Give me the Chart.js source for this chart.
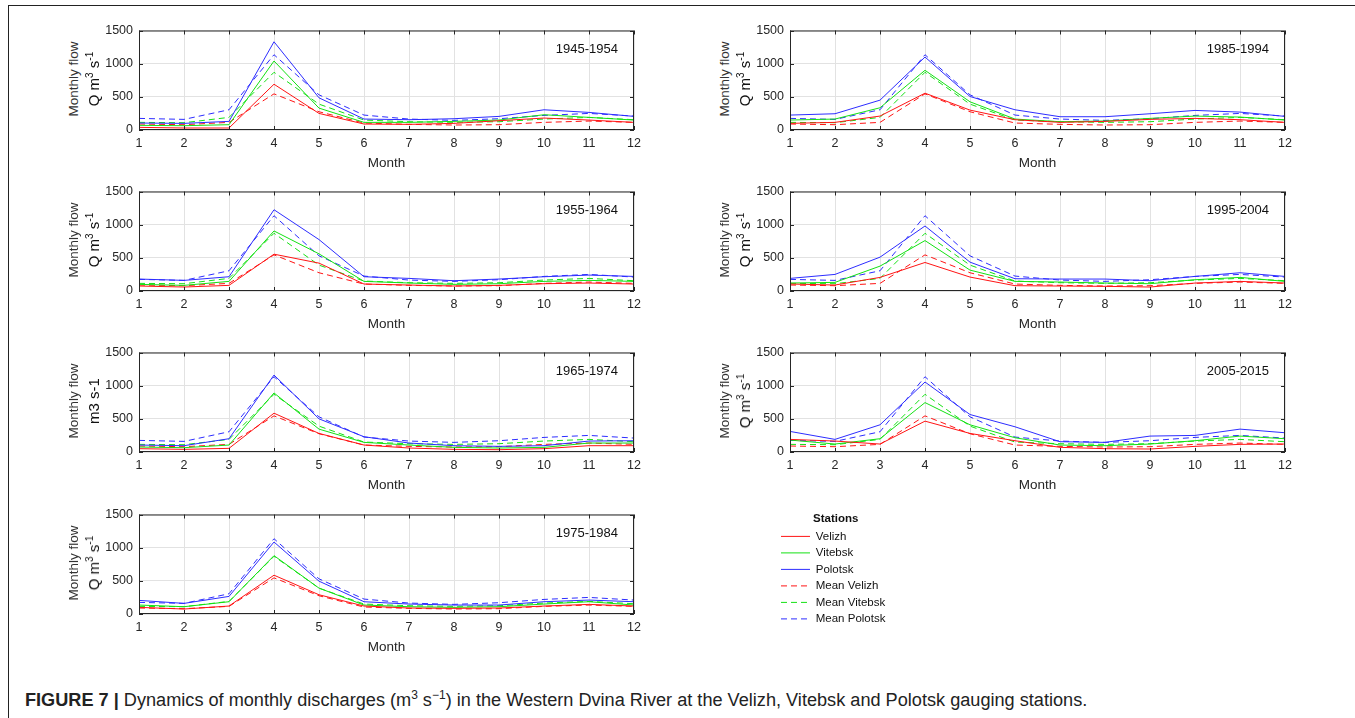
<!DOCTYPE html>
<html>
<head>
<meta charset="utf-8">
<script src="https://cdn.jsdelivr.net/npm/chart.js@4.4.0/dist/chart.umd.min.js"></script>
<style>
  body { margin: 0; background: #fff; font-family: "Liberation Sans", Arial, sans-serif; }
  #page { position: relative; width: 1355px; height: 718px; overflow: hidden; }
  #frame { position: absolute; left: 8px; top: 5px; width: 1400px; height: 800px;
           border-left: 1.5px solid #222; border-top: 1.5px solid #222; }
  canvas { position: absolute; }
  .ytitle { position: absolute; white-space: nowrap; transform: translate(-50%, -50%) rotate(-90deg); }
  .yt1 { font-size: 13.5px; color: #333; }
  .yt2 { font-size: 15px; color: #111; }
  .yt2 sup { font-size: 10px; }
  #caption { position: absolute; left: 25px; top: 688px; font-size: 18.15px; color: #222; white-space: nowrap; }
  #caption sup { font-size: 12px; }
</style>
</head>
<body>
<div id="page">
  <div id="frame"></div>
  <div id="caption"><b>FIGURE 7 |</b> Dynamics of monthly discharges (m<sup>3</sup> s<sup>−1</sup>) in the Western Dvina River at the Velizh, Vitebsk and Polotsk gauging stations.</div>
</div>
<script>
// months on the x axis
const months = ['1', '2', '3', '4', '5', '6', '7', '8', '9', '10', '11', '12'];
const stations = ['Velizh', 'Vitebsk', 'Polotsk'];
const periods = ['1945-1954', '1955-1964', '1965-1974', '1975-1984', '1985-1994', '1995-2004', '2005-2015'];

// long-term monthly means (same in every panel)
const meanVelizh  = [90, 80, 115, 545, 275, 105, 85, 75, 80, 115, 135, 115];
const meanVitebsk = [115, 110, 190, 870, 390, 150, 125, 115, 125, 165, 190, 155];
const meanPolotsk = [175, 160, 305, 1135, 530, 225, 165, 145, 170, 220, 250, 210];

// decade averages, m3/s
const velizh1945  = [40, 30, 30, 690, 250, 90, 85, 100, 140, 180, 150, 115];
const vitebsk1945 = [70, 65, 80, 1040, 330, 115, 115, 130, 150, 230, 190, 150];
const polotsk1945 = [105, 100, 130, 1330, 485, 165, 155, 170, 205, 305, 265, 205];

const velizh1955  = [75, 60, 85, 555, 420, 105, 90, 75, 85, 110, 120, 105];
const vitebsk1955 = [100, 85, 145, 905, 560, 145, 120, 100, 110, 145, 160, 145];
const polotsk1955 = [180, 160, 215, 1225, 775, 215, 190, 155, 180, 215, 240, 220];

const velizh1965  = [50, 40, 55, 585, 280, 105, 60, 40, 35, 50, 95, 95];
const vitebsk1965 = [75, 65, 105, 890, 345, 145, 105, 70, 60, 70, 135, 135];
const polotsk1965 = [105, 95, 200, 1160, 500, 230, 135, 95, 85, 95, 165, 170];

const velizh1975  = [100, 75, 120, 585, 290, 120, 90, 85, 90, 120, 145, 120];
const vitebsk1975 = [135, 110, 185, 880, 390, 135, 110, 100, 110, 150, 185, 135];
const polotsk1975 = [205, 160, 265, 1085, 495, 185, 150, 135, 135, 185, 210, 185];

const velizh1985  = [100, 115, 210, 555, 300, 155, 115, 130, 160, 175, 155, 115];
const vitebsk1985 = [150, 165, 335, 900, 425, 165, 125, 135, 175, 210, 195, 150];
const polotsk1985 = [225, 245, 450, 1100, 505, 305, 200, 200, 245, 295, 270, 205];

const velizh1995  = [105, 90, 205, 430, 210, 80, 75, 70, 60, 120, 145, 120];
const vitebsk1995 = [120, 130, 375, 760, 315, 145, 135, 120, 110, 170, 205, 145];
const polotsk1995 = [190, 250, 510, 980, 435, 185, 180, 180, 155, 220, 275, 220];

const velizh2005  = [190, 165, 120, 465, 280, 170, 70, 50, 45, 85, 115, 120];
const vitebsk2005 = [180, 120, 200, 745, 410, 215, 105, 95, 120, 170, 240, 200];
const polotsk2005 = [310, 190, 410, 1055, 565, 380, 155, 145, 240, 250, 345, 290];

const yTicks = [0, 500, 1000, 1500];

const panelSeries = [
  [velizh1945, vitebsk1945, polotsk1945],
  [velizh1955, vitebsk1955, polotsk1955],
  [velizh1965, vitebsk1965, polotsk1965],
  [velizh1975, vitebsk1975, polotsk1975],
  [velizh1985, vitebsk1985, polotsk1985],
  [velizh1995, vitebsk1995, polotsk1995],
  [velizh2005, vitebsk2005, polotsk2005]
];
const means = [meanVelizh, meanVitebsk, meanPolotsk];
const colors = ['rgb(255,20,20)', 'rgb(20,225,20)', 'rgb(45,45,255)'];

//layout of the 7 panels (plot area left/top)
const colLeft = [139, 790];
const rowTop = [27, 188, 349, 511];
const plotW = 495, plotH = 103;
const padL = 55, padT = 10, padR = 20, padB = 46;

const font = '"Liberation Sans", Arial, sans-serif';

const boxPlugin = {
  id: 'matlabBox',
  afterDatasetsDraw(chart, args, opts) {
    const {ctx, chartArea: a, scales: {x, y}} = chart;
    ctx.save();
    ctx.strokeStyle = '#262626';
    ctx.lineWidth = 1;
    ctx.strokeRect(a.left + 0.5, a.top + 0.5, a.width - 1, a.height - 1);
    ctx.beginPath();
    months.forEach((m, i) => {
      const px = Math.round(x.getPixelForTick(i)) + 0.5;
      ctx.moveTo(px, a.bottom); ctx.lineTo(px, a.bottom - 4);
      ctx.moveTo(px, a.top); ctx.lineTo(px, a.top + 4);
    });
    yTicks.forEach(v => {
      const py = Math.round(y.getPixelForValue(v)) + 0.5;
      ctx.moveTo(a.left, py); ctx.lineTo(a.left + 4, py);
      ctx.moveTo(a.right, py); ctx.lineTo(a.right - 4, py);
    });
    ctx.stroke();
    ctx.fillStyle = '#111';
    ctx.font = '13px ' + font;
    ctx.textAlign = 'right';
    ctx.textBaseline = 'middle';
    ctx.fillText(opts.text, a.right - 16, a.top + 19);
    ctx.restore();
  }
};

const page = document.getElementById('page');

function addCanvas(left, top, w, h) {
  const c = document.createElement('canvas');
  c.width = w; c.height = h;
  c.style.left = left + 'px'; c.style.top = top + 'px';
  c.style.width = w + 'px'; c.style.height = h + 'px';
  page.appendChild(c);
  return c;
}

function addYTitle(left, top, secondLine) {
  const t1 = document.createElement('div');
  t1.className = 'ytitle yt1';
  t1.style.left = (left - 66) + 'px';
  t1.style.top = (top + plotH / 2) + 'px';
  t1.textContent = 'Monthly flow';
  page.appendChild(t1);
  const t2 = document.createElement('div');
  t2.className = 'ytitle yt2';
  t2.style.left = (left - 46) + 'px';
  t2.style.top = (top + plotH / 2) + 'px';
  t2.innerHTML = secondLine;
  page.appendChild(t2);
}

periods.forEach((period, p) => {
  const col = p < 4 ? 0 : 1;
  const row = p < 4 ? p : p - 4;
  const left = colLeft[col], top = rowTop[row];
  const canvas = addCanvas(left - padL, top - padT, plotW + padL + padR, plotH + padT + padB);

  const datasets = [];
  stations.forEach((s, i) => {
    datasets.push({ label: s, data: panelSeries[p][i], borderColor: colors[i], borderWidth: 1 });
  });
  stations.forEach((s, i) => {
    datasets.push({ label: 'Mean ' + s, data: means[i], borderColor: colors[i], borderWidth: 1, borderDash: [6, 4] });
  });

  new Chart(canvas, {
    type: 'line',
    data: { labels: months, datasets: datasets },
    options: {
      responsive: false,
      animation: false,
      layout: { padding: { left: 0, top: padT, right: padR, bottom: 0 } },
      elements: { point: { radius: 0 }, line: { tension: 0 } },
      plugins: { legend: { display: false }, tooltip: { enabled: false }, matlabBox: { text: period } },
      scales: {
        x: {
          grid: { color: '#e2e2e2', drawTicks: false },
          border: { display: false },
          ticks: { autoSkip: false, maxRotation: 0, padding: 6, color: '#262626', font: { family: font, size: 12.5 } },
          title: { display: true, text: 'Month', color: '#262626', font: { family: font, size: 13.5 }, padding: { top: 0, bottom: 5 } },
          afterFit: s => { s.height = padB; }
        },
        y: {
          min: 0, max: 1500,
          grid: { color: '#e2e2e2', drawTicks: false },
          border: { display: false },
          ticks: { stepSize: 500, padding: 6, color: '#262626', font: { family: font, size: 12.5 }, callback: v => String(v) },
          afterFit: s => { s.width = padL; }
        }
      }
    },
    plugins: [boxPlugin]
  });

  const unit = period === '1965-1974' ? 'm3 s-1' : 'Q m<sup>3</sup> s<sup>-1</sup>';
  addYTitle(left, top, unit);
});

// legend-only chart
const legendCanvas = addCanvas(776, 513, 300, 125);
const legendSets = [];
stations.forEach((s, i) => legendSets.push({ label: s, data: [], borderColor: colors[i], borderWidth: 1 }));
stations.forEach((s, i) => legendSets.push({ label: 'Mean ' + s, data: [], borderColor: colors[i], borderWidth: 1, borderDash: [6, 4] }));
new Chart(legendCanvas, {
  type: 'line',
  data: { labels: [], datasets: legendSets },
  options: {
    responsive: false,
    animation: false,
    scales: { x: { display: false }, y: { display: false } },
    plugins: {
      tooltip: { enabled: false },
      legend: {
        position: 'left',
        align: 'start',
        title: { display: true, text: 'Stations', color: '#111', font: { family: font, size: 11.5, weight: 'bold', lineHeight: 1.1 }, padding: { top: 0, bottom: 0 } },
        labels: {
          usePointStyle: true, pointStyleWidth: 29, boxHeight: 11, padding: 5, color: '#111',
          font: { family: font, size: 11.5 },
          generateLabels: chart => chart.data.datasets.map((ds, i) => ({
            text: ds.label, strokeStyle: ds.borderColor, fillStyle: ds.borderColor, fontColor: '#111',
            lineWidth: 1, lineDash: ds.borderDash || [], pointStyle: 'line', datasetIndex: i, hidden: false
          }))
        }
      }
    }
  }
});
</script>
</body>
</html>
